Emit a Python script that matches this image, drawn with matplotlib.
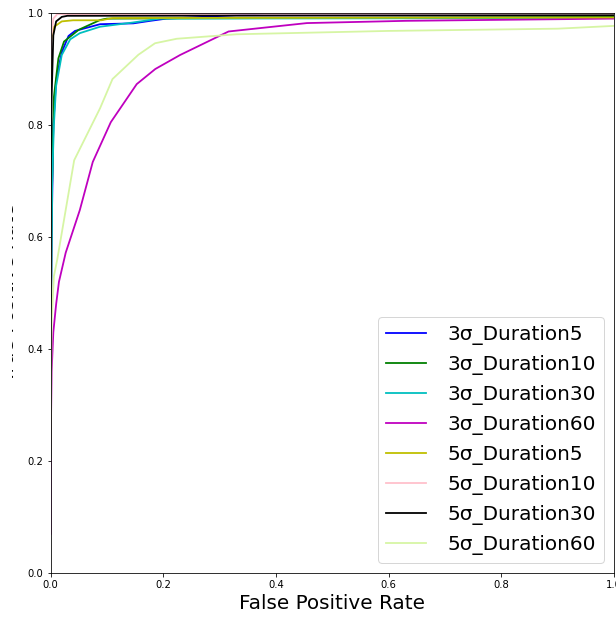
import matplotlib
matplotlib.use("Agg")
import matplotlib.pyplot as plt
from matplotlib.transforms import Bbox, TransformedBbox

labels = ["3σ_Duration5", "3σ_Duration10", "3σ_Duration30", "3σ_Duration60",
          "5σ_Duration5", "5σ_Duration10", "5σ_Duration30", "5σ_Duration60"]
colors = ["b", "g", "c", "m", "y", "pink", "k", "#d6f5a4"]

fpr_3s_d5 = [0.0, 0.002, 0.005, 0.01, 0.02, 0.032, 0.0435, 0.088, 0.147, 0.177, 0.206, 0.25, 0.38, 1.0]
tpr_3s_d5 = [0.3, 0.6, 0.8, 0.88, 0.93, 0.959, 0.968, 0.98, 0.9815, 0.986, 0.99, 0.992, 0.999, 1.0]

fpr_3s_d10 = [0.0, 0.002, 0.006, 0.014, 0.024, 0.029, 0.05, 0.088, 0.1, 1.0]
tpr_3s_d10 = [0.3, 0.65, 0.85, 0.919, 0.949, 0.953, 0.97, 0.9875, 0.99, 0.993]

fpr_3s_d30 = [0.0, 0.0, 0.0015, 0.003, 0.006, 0.01, 0.02, 0.035, 0.052, 0.088, 0.146, 0.194, 1.0]
tpr_3s_d30 = [0.207, 0.375, 0.56, 0.7, 0.8, 0.87, 0.925, 0.953, 0.964, 0.9755, 0.983, 0.99, 0.991]

fpr_3s_d60 = [0.0, 0.0, 0.002, 0.005, 0.01, 0.015, 0.027, 0.052, 0.075, 0.107, 0.153, 0.186, 0.23, 0.316, 0.455, 0.63, 1.0]
tpr_3s_d60 = [0.07, 0.2, 0.36, 0.43, 0.48, 0.52, 0.572, 0.648, 0.734, 0.805, 0.873, 0.9, 0.925, 0.967, 0.982, 0.986, 0.99]

fpr_5s_d5 = [0.0, 0.001, 0.006, 0.02, 0.04, 0.09, 0.11, 1.0]
tpr_5s_d5 = [0.4, 0.95, 0.975, 0.985, 0.987, 0.987, 0.991, 0.992]

fpr_5s_d10 = [0.0, 0.0, 0.002, 0.005, 0.012, 1.0]
tpr_5s_d10 = [0.5, 0.9, 0.96, 0.99, 0.998, 0.999]

fpr_5s_d30 = [0.0, 0.0, 0.002, 0.005, 0.01, 0.02, 0.03, 1.0]
tpr_5s_d30 = [0.376, 0.7, 0.85, 0.96, 0.985, 0.993, 0.995, 0.996]

fpr_5s_d60 = [0.0, 0.002, 0.006, 0.012, 0.042, 0.088, 0.11, 0.156, 0.1855, 0.224, 0.33, 0.6, 0.9, 1.0]
tpr_5s_d60 = [0.207, 0.45, 0.53, 0.56, 0.737, 0.83, 0.882, 0.9255, 0.946, 0.954, 0.962, 0.968, 0.972, 0.977]

series = [(fpr_3s_d5, tpr_3s_d5), (fpr_3s_d10, tpr_3s_d10), (fpr_3s_d30, tpr_3s_d30),
          (fpr_3s_d60, tpr_3s_d60), (fpr_5s_d5, tpr_5s_d5), (fpr_5s_d10, tpr_5s_d10),
          (fpr_5s_d30, tpr_5s_d30), (fpr_5s_d60, tpr_5s_d60)]

DPI = 72
W, H = 616, 619
fig = plt.figure(figsize=(W / DPI, H / DPI), dpi=DPI)
ax = fig.add_axes([50.5 / W, (H - 573) / H, (614 - 50.5) / W, (573 - 13) / H])

for (f, t), lab, c in zip(series, labels, colors):
    ax.plot(f, t, color=c, label=lab, lw=1.8)

ax.set_xlim(0, 1)
ax.set_ylim(0, 1)
ax.tick_params(labelsize=10)
ax.set_xlabel("False Positive Rate", fontsize=20)
ylab = ax.set_ylabel("True Positive Rate", fontsize=20)
ax.yaxis.set_label_coords(-0.058, 0.5)
# the reference shows only the right-most sliver of the y label (cropped source image)
ylab.set_clip_box(TransformedBbox(Bbox([[12 / W, 0], [1, 1]]), fig.transFigure))
ylab.set_clip_on(True)

ax.legend(loc="lower right", fontsize=20, handlelength=2.0, handletextpad=1.1)

fig.savefig("out.png", dpi=DPI)
